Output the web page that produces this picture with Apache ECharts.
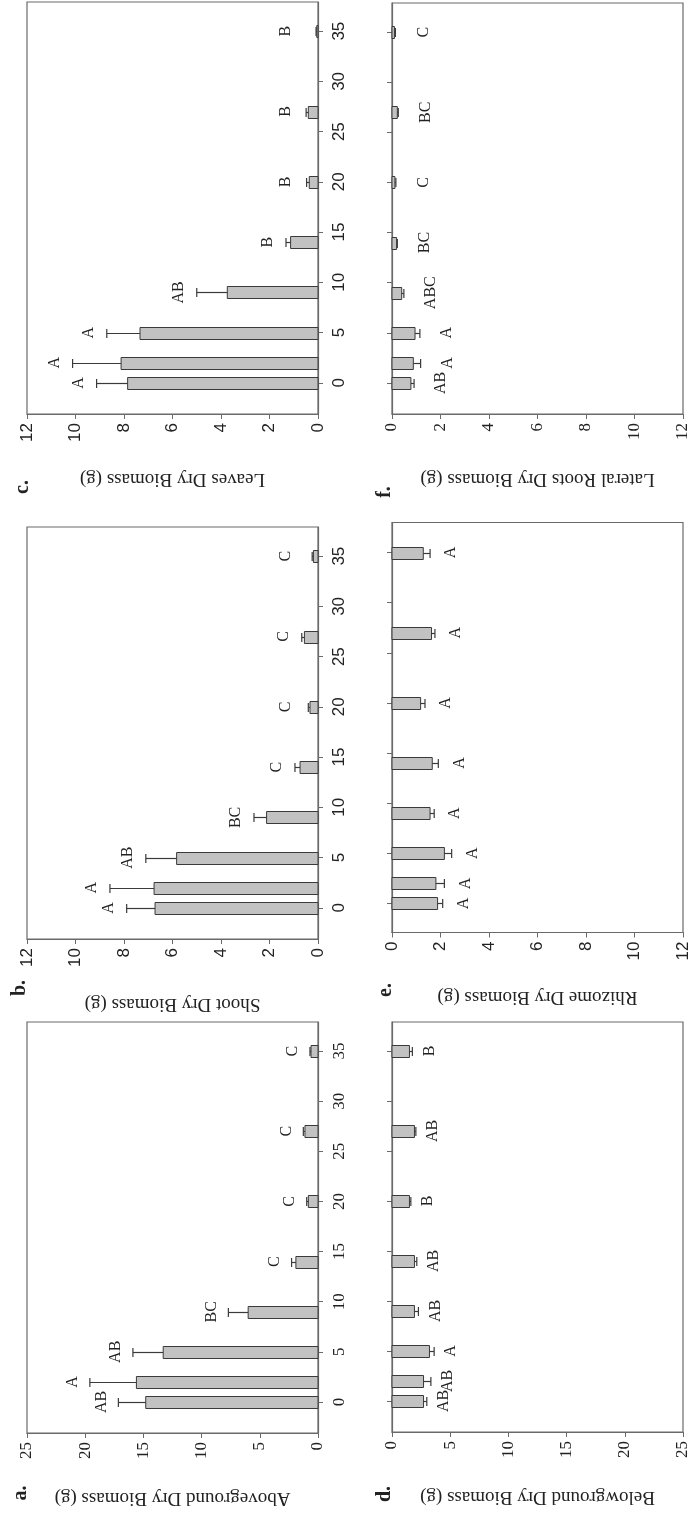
<!DOCTYPE html>
<html>
<head>
<meta charset="utf-8">
<script src="https://cdn.jsdelivr.net/npm/echarts@6/dist/echarts.min.js"></script>
<style>
html,body{margin:0;padding:0;background:#fff;}
#chart{width:692px;height:1514px;}
</style>
</head>
<body>
<div id="chart"></div>
<script>
// ---- data ----
const days = [0, 2, 5, 9, 14, 20, 27, 35];
const dayTicks = [0, 5, 10, 15, 20, 25, 30, 35];

// a. Aboveground
const aboveMean = [14.8, 15.6, 13.3, 6.0, 1.9, 0.83, 1.12, 0.6];
const aboveErr = [2.35, 4.0, 2.6, 1.7, 0.37, 0.14, 0.14, 0.09];
const aboveLetters = ['AB', 'A', 'AB', 'BC', 'C', 'C', 'C', 'C'];
// b. Shoot
const shootMean = [6.72, 6.76, 5.83, 2.12, 0.74, 0.33, 0.56, 0.19];
const shootErr = [1.17, 1.82, 1.27, 0.52, 0.21, 0.07, 0.11, 0.05];
const shootLetters = ['A', 'A', 'AB', 'BC', 'C', 'C', 'C', 'C'];
// c. Leaves
const leavesMean = [7.85, 8.12, 7.34, 3.74, 1.13, 0.36, 0.4, 0.05];
const leavesErr = [1.28, 2.0, 1.37, 1.26, 0.19, 0.11, 0.09, 0.03];
const leavesLetters = ['A', 'A', 'A', 'AB', 'B', 'B', 'B', 'B'];
// d. Belowground
const belowMean = [2.71, 2.71, 3.22, 1.93, 1.93, 1.5, 1.93, 1.5];
const belowErr = [0.28, 0.63, 0.4, 0.34, 0.2, 0.12, 0.12, 0.25];
const belowLetters = ['AB', 'AB', 'A', 'AB', 'AB', 'B', 'AB', 'B'];
// e. Rhizome
const rhizomeMean = [1.88, 1.81, 2.16, 1.57, 1.66, 1.18, 1.63, 1.29];
const rhizomeErr = [0.21, 0.35, 0.3, 0.17, 0.25, 0.18, 0.14, 0.28];
const rhizomeLetters = ['A', 'A', 'A', 'A', 'A', 'A', 'A', 'A'];
// f. Lateral roots
const lateralMean = [0.78, 0.88, 0.95, 0.40, 0.19, 0.12, 0.22, 0.10];
const lateralErr = [0.13, 0.30, 0.20, 0.09, 0.03, 0.04, 0.04, 0.04];
const lateralLetters = ['AB', 'A', 'A', 'ABC', 'BC', 'C', 'BC', 'C'];

const smallTicks = [0, 2, 4, 6, 8, 10, 12];
const bigTicks = [0, 5, 10, 15, 20, 25];

// ---- styling / layout ----
const SANS = "'Liberation Sans', Arial, sans-serif";
const SERIF = "'Liberation Serif', 'Times New Roman', serif";
const AXIS_COLOR = '#6a6a6a';
const TEXT_COLOR = '#222';

const panels = [
  {tag: 'c.', grid: {left: 27, top: 2, width: 291, height: 412}, ymin: -3.1, ymax: 37.9, side: 'left',
   ticks: smallTicks, mean: leavesMean, err: leavesErr, letters: leavesLetters,
   title: 'Leaves Dry Biomass (g)', valFont: SANS, catFont: SANS, gap: 11, minD: 25, tagPos: [23, 487]},
  {tag: 'f.', grid: {left: 392, top: 3, width: 291, height: 411}, ymin: -3.1, ymax: 37.9, side: 'right',
   ticks: smallTicks, mean: lateralMean, err: lateralErr, letters: lateralLetters,
   title: 'Lateral Roots Dry Biomass (g)', valFont: SERIF, catFont: SERIF, gap: 20, minD: 25, tagPos: [385, 492]},
  {tag: 'b.', grid: {left: 27, top: 527, width: 291, height: 412}, ymin: -3.1, ymax: 37.9, side: 'left',
   ticks: smallTicks, mean: shootMean, err: shootErr, letters: shootLetters,
   title: 'Shoot Dry Biomass (g)', valFont: SANS, catFont: SANS, gap: 11, minD: 25, tagPos: [20, 988]},
  {tag: 'e.', grid: {left: 392, top: 522.5, width: 291, height: 410}, ymin: -2.9, ymax: 38, side: 'right',
   ticks: smallTicks, mean: rhizomeMean, err: rhizomeErr, letters: rhizomeLetters,
   title: 'Rhizome Dry Biomass (g)', valFont: SANS, catFont: SANS, gap: 14, minD: 0, tagPos: [386, 990]},
  {tag: 'a.', grid: {left: 27, top: 1022, width: 291, height: 411}, ymin: -3.1, ymax: 37.9, side: 'left',
   ticks: bigTicks, mean: aboveMean, err: aboveErr, letters: aboveLetters,
   title: 'Aboveground Dry Biomass (g)', valFont: SERIF, catFont: SERIF, gap: 10, minD: 0, tagPos: [21, 1493]},
  {tag: 'd.', grid: {left: 392, top: 1022, width: 291, height: 410}, ymin: -3.1, ymax: 37.9, side: 'right',
   ticks: bigTicks, mean: belowMean, err: belowErr, letters: belowLetters,
   title: 'Belowground Dry Biomass (g)', valFont: SERIF, catFont: SERIF, gap: 10, minD: 0, tagPos: [385, 1494]}
];

const grids = [], xAxes = [], yAxes = [], series = [], graphics = [];

panels.forEach((p, i) => {
  const left = p.side === 'left';
  const tmax = p.ticks[p.ticks.length - 1];
  grids.push(Object.assign({show: true, borderColor: AXIS_COLOR, borderWidth: 1.2,
    backgroundColor: 'transparent'}, p.grid));
  xAxes.push({
    type: 'value', gridIndex: i, min: 0, max: tmax, interval: p.ticks[1] - p.ticks[0],
    inverse: left, position: 'bottom',
    axisLine: {show: true, onZero: false, lineStyle: {color: AXIS_COLOR, width: 1.2}},
    axisTick: {show: true, length: 5, lineStyle: {color: AXIS_COLOR}},
    splitLine: {show: false},
    axisLabel: {rotate: 90, margin: 9, fontFamily: p.valFont, fontSize: 17, color: TEXT_COLOR},
    name: p.title, nameLocation: 'middle', nameRotate: 180, nameGap: 55,
    nameTextStyle: {fontFamily: SERIF, fontSize: 19, color: TEXT_COLOR}
  });
  yAxes.push({
    type: 'value', gridIndex: i, min: p.ymin, max: p.ymax,
    position: left ? 'right' : 'left',
    axisLine: {show: true, onZero: false, lineStyle: {color: AXIS_COLOR, width: 1.2}},
    axisTick: {show: true, length: 5, customValues: dayTicks, lineStyle: {color: AXIS_COLOR}},
    splitLine: {show: false},
    axisLabel: {show: left, rotate: 90, margin: 13, customValues: dayTicks,
      fontFamily: p.catFont, fontSize: 17, color: TEXT_COLOR}
  });
  const data = days.map((d, k) => [d, p.mean[k], p.err[k]]);
  series.push({
    type: 'custom', xAxisIndex: i, yAxisIndex: i, clip: false,
    data: data,
    renderItem: function (params, api) {
      const day = api.value(0), v = api.value(1), e = api.value(2);
      const p0 = api.coord([0, day]);
      const p1 = api.coord([v, day]);
      const p2 = api.coord([v + e, day]);
      const h = 12;
      const y = Math.round(p0[1]) + 0.5;
      const children = [];
      children.push({
        type: 'rect',
        shape: {x: Math.min(p0[0], p1[0]), y: y - h / 2, width: Math.abs(p1[0] - p0[0]), height: h},
        style: {fill: '#c2c2c2', stroke: '#3a3a3a', lineWidth: 1}
      });
      children.push({type: 'line', shape: {x1: p1[0], y1: y, x2: p2[0], y2: y},
        style: {stroke: '#3a3a3a', lineWidth: 1.2}});
      children.push({type: 'line', shape: {x1: p2[0], y1: y - 4.5, x2: p2[0], y2: y + 4.5},
        style: {stroke: '#3a3a3a', lineWidth: 1.2}});
      let cx;
      if (left) {
        const edge = Math.min(p2[0] - p.gap, p0[0] - p.minD);
        cx = edge - 7;
      } else {
        const edge = Math.max(p2[0] + p.gap, p0[0] + p.minD);
        cx = edge + 7;
      }
      children.push({
        type: 'text', x: cx, y: p0[1], rotation: Math.PI / 2,
        style: {text: p.letters[params.dataIndex], font: '16px ' + SERIF, fill: TEXT_COLOR,
          align: 'center', verticalAlign: 'middle'}
      });
      return {type: 'group', children: children};
    }
  });
  graphics.push({
    type: 'text', x: p.tagPos[0], y: p.tagPos[1], rotation: Math.PI / 2,
    style: {text: p.tag, font: 'bold 20px ' + SERIF, fill: TEXT_COLOR, align: 'center', verticalAlign: 'middle'}
  });
});

const chart = echarts.init(document.getElementById('chart'), null, {renderer: 'canvas'});
chart.setOption({
  backgroundColor: '#ffffff',
  animation: false,
  grid: grids,
  xAxis: xAxes,
  yAxis: yAxes,
  series: series,
  graphic: graphics
});
</script>
</body>
</html>
